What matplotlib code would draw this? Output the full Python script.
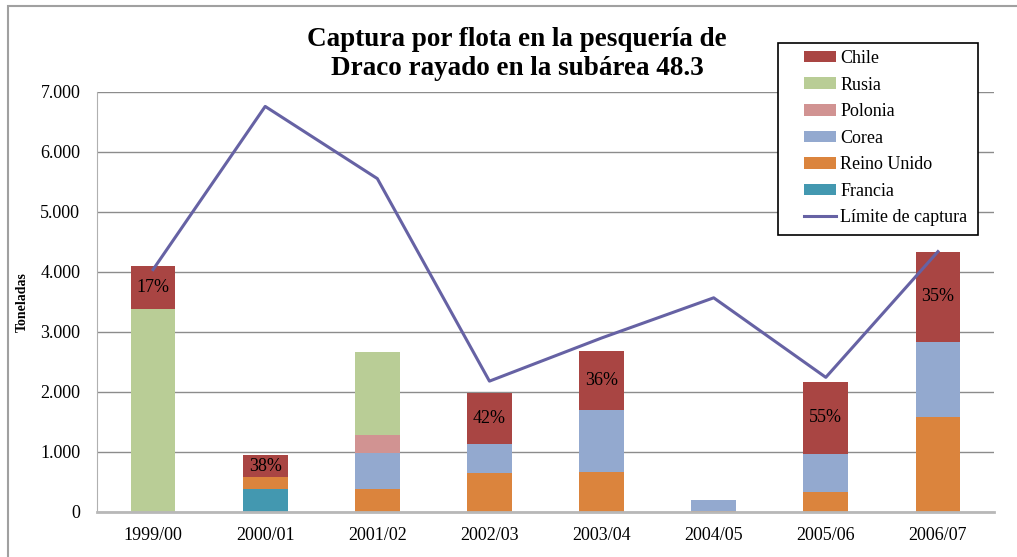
import numpy as np
import matplotlib
matplotlib.use("Agg")
import matplotlib.pyplot as plt
from matplotlib.ticker import FuncFormatter
from matplotlib.patches import Rectangle

plt.rcParams['font.family'] = ['Liberation Serif', 'DejaVu Serif']

temporadas = ["1999/00", "2000/01", "2001/02", "2002/03", "2003/04", "2004/05", "2005/06", "2006/07"]
francia = [0, 380, 0, 0, 0, 0, 0, 0]
reino_unido = [0, 200, 380, 650, 670, 15, 340, 1585]
corea = [0, 0, 600, 485, 1030, 185, 630, 1250]
polonia = [0, 0, 300, 0, 0, 0, 0, 0]
rusia = [3390, 0, 1385, 0, 0, 0, 0, 0]
chile = [710, 365, 0, 850, 985, 0, 1200, 1500]
limite = [4040, 6760, 5557, 2181, 2900, 3570, 2244, 4340]
pct_chile = ["17%", "38%", "", "42%", "36%", "", "55%", "35%"]

series = [
    ("Francia", francia, "#4398b0"),
    ("Reino Unido", reino_unido, "#db843d"),
    ("Corea", corea, "#93a9cf"),
    ("Polonia", polonia, "#d19392"),
    ("Rusia", rusia, "#b9cd96"),
    ("Chile", chile, "#a94543"),
]

fig = plt.figure(figsize=(10.17, 5.57), dpi=100)
ax = fig.add_axes([97 / 1017, 1 - 512 / 557, 897 / 1017, 420 / 557])

x = np.arange(len(temporadas))
bottom = np.zeros(len(x))
handles = {}
for nombre, vals, color in series:
    vals = np.array(vals, dtype=float)
    b = ax.bar(x, vals, 0.4, bottom=bottom, color=color, label=nombre, zorder=2)
    handles[nombre] = b
    bottom += vals

# porcentajes de Chile
chile_base = bottom - np.array(chile)
for i, p in enumerate(pct_chile):
    if p:
        ax.text(x[i], chile_base[i] + chile[i] / 2, p, ha="center", va="center",
                fontsize=13, zorder=4)

linea, = ax.plot(x, limite, color="#6662a4", lw=2.2, zorder=3, label="Límite de captura")

ax.set_xlim(-0.5, len(x) - 0.5)
ax.set_ylim(0, 7000)
ax.set_yticks(np.arange(0, 7001, 1000))
ax.yaxis.set_major_formatter(FuncFormatter(lambda v, pos: f"{int(v):,}".replace(",", ".")))
ax.set_xticks(x)
ax.set_xticklabels(temporadas)
ax.tick_params(axis="both", length=0, labelsize=13, pad=11)
ax.tick_params(axis="y", pad=12)
ax.grid(axis="y", color="#8c8c8c", lw=1, zorder=0)
for s in ["top", "right"]:
    ax.spines[s].set_visible(False)
ax.spines["left"].set_color("#b0b0b0")
ax.spines["bottom"].set_color("#b8b8b8")
ax.spines["bottom"].set_linewidth(2)

fig.text(22 / 1017, 1 - 302 / 557, "Toneladas", rotation=90, ha="center", va="center",
         fontsize=10, fontweight="bold", fontstretch="condensed")

fig.text(517 / 1017, 1 - 54 / 557, "Captura por flota en la pesquería de\nDraco rayado en la subárea 48.3",
         ha="center", va="center", fontsize=19.5, fontweight="bold", linespacing=1.25)

orden = ["Chile", "Rusia", "Polonia", "Corea", "Reino Unido", "Francia"]
leg = fig.legend([handles[n] for n in orden] + [linea], orden + ["Límite de captura"],
                 loc="upper left", bbox_to_anchor=(804 / 1017, 1 - 50 / 557),
                 frameon=False, fontsize=13,
                 handlelength=1.75, handleheight=0.6, labelspacing=0.53,
                 borderpad=0, handletextpad=0.25, borderaxespad=0)

# marco de la leyenda
fig.patches.append(Rectangle((778 / 1017, 1 - 235 / 557), 200 / 1017, 192 / 557,
                             transform=fig.transFigure, facecolor="white",
                             edgecolor="black", lw=1.2, zorder=4))
leg.set_zorder(5)

# borde exterior del gráfico
fig.patches.append(Rectangle((8 / 1017, -0.1), 1.2, 1 - 6 / 557 + 0.1, transform=fig.transFigure,
                             fill=False, edgecolor="#a0a0a0", lw=1.5))

fig.savefig("out.png", dpi=100)
